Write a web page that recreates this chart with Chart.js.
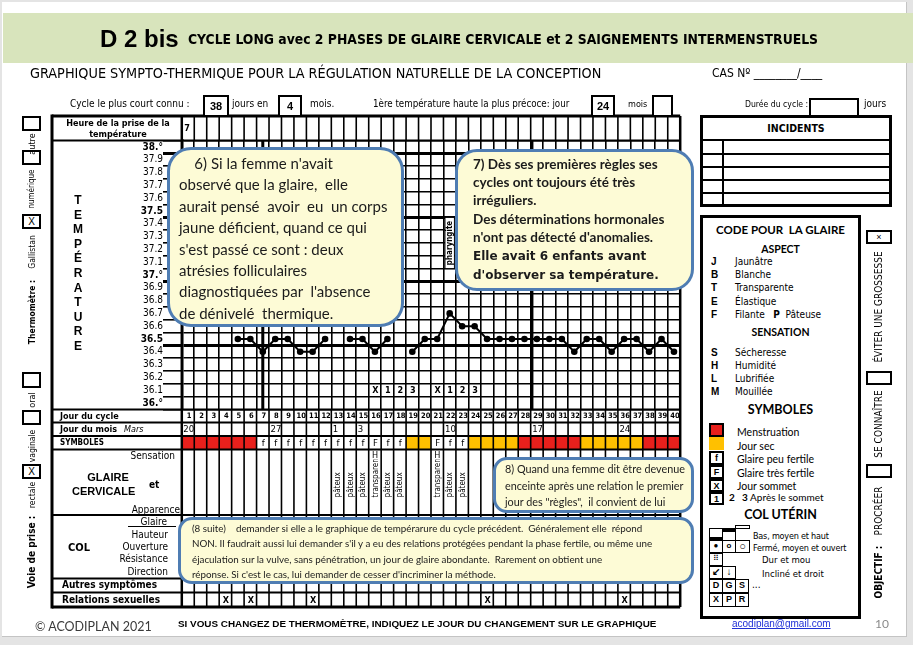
<!DOCTYPE html>
<html>
<head>
<meta charset="utf-8">
<script src="https://cdn.jsdelivr.net/npm/chart.js@4.4.1/dist/chart.umd.min.js"></script>
<style>
body{margin:0;background:#e4e4e4;font-family:"Liberation Sans",Arial,sans-serif;color:#000}
#page{position:relative;width:913px;height:645px;overflow:hidden}
#slide{position:absolute;left:2px;top:2px;width:904px;height:634px;background:#fff;border-right:1px solid #c4c4c4;border-bottom:1px solid #c4c4c4}
#band{position:absolute;left:3px;top:13px;width:910px;height:50px;background:#d8e4bc}
canvas{position:absolute;left:0;top:0;z-index:1}
.a{position:absolute;white-space:nowrap;line-height:1;z-index:2}
.n{font-family:"Liberation Sans Narrow","DejaVu Sans Condensed","Liberation Sans",sans-serif}
.l{font-family:Lato,sans-serif}
.b{font-weight:bold}
.bx{position:absolute;box-sizing:border-box;border:2px solid #000;background:#fff;z-index:2;text-align:center;font-weight:bold;line-height:1}
.v{position:absolute;white-space:nowrap;line-height:1;z-index:2;transform:translate(-50%,-50%) rotate(-90deg)}
.co{position:absolute;box-sizing:border-box;background:#fdfbd6;border:3px solid #4f7db3;z-index:3;font-family:Lato,sans-serif;color:#1b1b1b;white-space:pre}
.ln{position:absolute;background:#000;z-index:2}
</style>
</head>
<body>
<div id="page">
<div id="slide"></div>
<div id="band"></div>

<!-- header -->
<div class="a b" style="left:100px;top:27px;font-size:24px">D 2 bis</div>
<div class="a b n" style="left:188px;top:33px;font-size:13.8px">CYCLE LONG avec 2 PHASES DE GLAIRE CERVICALE et 2 SAIGNEMENTS INTERMENSTRUELS</div>
<div class="a n" style="left:30px;top:66px;font-size:14.3px">GRAPHIQUE SYMPTO-THERMIQUE POUR LA RÉGULATION NATURELLE DE LA CONCEPTION</div>
<div class="a n" style="left:712px;top:67px;font-size:12px">CAS Nº ________/____</div>

<div class="a n" style="left:70px;top:99px;font-size:10px">Cycle le plus court connu :</div>
<div class="bx" style="left:203px;top:95px;width:26px;height:22px;font-size:11px;padding-top:4px">38</div>
<div class="a n" style="left:232px;top:99px;font-size:10px">jours en</div>
<div class="bx" style="left:278px;top:95px;width:24px;height:22px;font-size:11px;padding-top:4px">4</div>
<div class="a n" style="left:310px;top:99px;font-size:10px">mois.</div>
<div class="a n" style="left:373px;top:99px;font-size:9.7px">1ère température haute la plus précoce: jour</div>
<div class="bx" style="left:591px;top:95px;width:24px;height:22px;font-size:11px;padding-top:4px">24</div>
<div class="a n" style="left:628px;top:100px;font-size:9px">mois</div>
<div class="bx" style="left:652px;top:95px;width:21px;height:22px"></div>
<div class="a n" style="left:745px;top:100px;font-size:8.6px">Durée du cycle :</div>
<div class="bx" style="left:809px;top:98px;width:50px;height:19px"></div>
<div class="a n" style="left:864px;top:99px;font-size:10px">jours</div>

<!-- left labels of the grid -->
<div class="a b n" style="left:58px;top:118px;width:120px;text-align:center;font-size:9px;line-height:11px">Heure de la prise de la<br>température</div>
<div class="a b" style="left:71px;top:193px;width:14px;text-align:center;font-size:12px;line-height:14.6px">T<br>E<br>M<br>P<br>É<br>R<br>A<br>T<br>U<br>R<br>E</div>
<div class="a b n" style="left:60px;top:412px;font-size:9px">Jour du cycle</div>
<div class="a b n" style="left:60px;top:425px;font-size:9px">Jour du mois <span style="font-style:italic;font-weight:normal;margin-left:4px">Mars</span></div>
<div class="a b n" style="left:60px;top:439px;font-size:8px">SYMBOLES</div>
<div class="a n" style="right:738px;top:451px;font-size:10px">Sensation</div>
<div class="a b" style="left:85px;top:472px;width:46px;text-align:center;font-size:11px">GLAIRE</div>
<div class="a b" style="left:72px;top:486px;font-size:11px">CERVICALE</div>
<div class="a b n" style="left:149px;top:480px;font-size:10px">et</div>
<div class="a n" style="right:733px;top:505px;font-size:10px">Apparence</div>
<div class="a n" style="right:746px;top:517px;font-size:10px">Glaire</div>
<div class="ln" style="left:128px;top:526px;width:48px;height:1px"></div>
<div class="a n" style="right:745px;top:530px;font-size:10px">Hauteur</div>
<div class="a b n" style="left:68px;top:542px;font-size:11px">COL</div>
<div class="a n" style="right:745px;top:542px;font-size:10px">Ouverture</div>
<div class="a n" style="right:745px;top:554px;font-size:10px">Résistance</div>
<div class="a n" style="right:745px;top:567px;font-size:10px">Direction</div>
<div class="a b n" style="left:62px;top:580px;font-size:10px">Autres symptômes</div>
<div class="a b n" style="left:62px;top:595px;font-size:10px">Relations sexuelles</div>

<!-- thermometer / voie de prise column -->
<div class="v b n" style="left:32px;top:312px;font-size:8.5px">Thermomètre :</div>
<div class="v n" style="left:32px;top:252px;font-size:8.5px">Gallistan</div>
<div class="bx" style="left:22px;top:214px;width:19px;height:15px;font-size:10px;padding-top:1px;font-weight:normal">X</div>
<div class="v n" style="left:32px;top:189px;font-size:8px">numérique</div>
<div class="bx" style="left:22px;top:150px;width:19px;height:15px"></div>
<div class="v n" style="left:32px;top:144px;font-size:9px">autre</div>
<div class="bx" style="left:22px;top:116px;width:19px;height:15px"></div>
<div class="v b n" style="left:32px;top:552px;font-size:10px">Voie de prise :</div>
<div class="v n" style="left:32px;top:495px;font-size:8.5px">rectale</div>
<div class="bx" style="left:22px;top:464px;width:19px;height:15px;font-size:10px;padding-top:1px;font-weight:normal">X</div>
<div class="v n" style="left:32px;top:446px;font-size:8.5px">vaginale</div>
<div class="bx" style="left:22px;top:410px;width:19px;height:15px"></div>
<div class="v n" style="left:32px;top:400px;font-size:9px">oral</div>
<div class="bx" style="left:22px;top:372px;width:19px;height:16px"></div>

<!-- objectif column -->
<div class="v b n" style="left:879px;top:572px;font-size:10px">OBJECTIF :</div>
<div class="v n" style="left:879px;top:511px;font-size:10px">PROCRÉER</div>
<div class="bx" style="left:866px;top:464px;width:26px;height:14px"></div>
<div class="v n" style="left:879px;top:424px;font-size:10px">SE CONNAÎTRE</div>
<div class="bx" style="left:866px;top:371px;width:26px;height:14px"></div>
<div class="v n" style="left:879px;top:307px;font-size:10px">ÉVITER UNE GROSSESSE</div>
<div class="bx" style="left:866px;top:230px;width:26px;height:14px;font-size:9px;font-weight:normal;padding-top:1px">×</div>

<!-- incidents -->
<div class="bx" style="left:700px;top:115px;width:192px;height:92px;border-width:3px"></div>
<div class="a b n" style="left:700px;top:123px;width:192px;text-align:center;font-size:10.5px">INCIDENTS</div>
<div class="ln" style="left:700px;top:139px;width:192px;height:2px"></div>
<div class="ln" style="left:700px;top:153px;width:192px;height:2px"></div>
<div class="ln" style="left:700px;top:166px;width:192px;height:2px"></div>
<div class="ln" style="left:700px;top:179px;width:192px;height:2px"></div>
<div class="ln" style="left:700px;top:192px;width:192px;height:2px"></div>
<div class="ln" style="left:722px;top:140px;width:2px;height:66px"></div>

<!-- code pour la glaire -->
<div class="bx" style="left:700px;top:215px;width:161px;height:404px;border-width:3px"></div>
<div class="a b l" style="left:700px;top:224px;width:161px;text-align:center;font-size:11.5px">CODE POUR&nbsp; LA GLAIRE</div>
<div class="a b l" style="left:700px;top:244px;width:161px;text-align:center;font-size:10.5px">ASPECT</div>
<div class="a b" style="left:711px;top:255px;font-size:10px;line-height:13.2px">J<br>B<br>T<br>E<br>F</div>
<div class="a n" style="left:735px;top:255px;font-size:10px;line-height:13.2px">Jaunâtre<br>Blanche<br>Transparente<br>Élastique<br>Filante&nbsp;&nbsp; <b>P</b>&nbsp; Pâteuse</div>
<div class="a b l" style="left:700px;top:327px;width:161px;text-align:center;font-size:10.5px">SENSATION</div>
<div class="a b" style="left:711px;top:346px;font-size:10px;line-height:13px">S<br>H<br>L<br>M</div>
<div class="a n" style="left:735px;top:346px;font-size:10px;line-height:13px">Sécheresse<br>Humidité<br>Lubrifiée<br>Mouillée</div>
<div class="a b l" style="left:700px;top:404px;width:161px;text-align:center;font-size:12.5px">SYMBOLES</div>
<div class="bx" style="left:709px;top:423px;width:15px;height:14px;background:#e8201c"></div>
<div class="bx" style="left:709px;top:437px;width:15px;height:13px;background:#ffc000;border-width:0"></div>
<div class="bx" style="left:709px;top:451px;width:15px;height:14px;font-size:9px;padding-top:1px">f</div>
<div class="bx" style="left:709px;top:465px;width:15px;height:14px;font-size:9px;padding-top:1px">F</div>
<div class="bx" style="left:709px;top:479px;width:15px;height:13px;font-size:9px;padding-top:1px">X</div>
<div class="bx" style="left:709px;top:492px;width:15px;height:13px;font-size:9px;padding-top:1px">1</div>
<div class="a l" style="left:737px;top:426px;font-size:10.5px;line-height:13.6px">Menstruation<br>Jour sec<br>Glaire peu fertile<br>Glaire très fertile<br>Jour sommet</div>
<div class="a l" style="left:729px;top:492px;font-size:10px"><b>2&nbsp;&nbsp; 3</b> Après le sommet</div>
<div class="a b l" style="left:700px;top:509px;width:161px;text-align:center;font-size:12.5px">COL UTÉRIN</div>
<div class="bx" style="left:709px;top:528px;width:14px;height:13px;border-width:1.5px;border-bottom-width:4px"></div>
<div class="bx" style="left:722px;top:528px;width:14px;height:13px;border-width:1.5px;border-top-width:4px"></div>
<div class="bx" style="left:735px;top:525px;width:15px;height:4px;border-width:1.5px"></div>
<div class="bx" style="left:709px;top:540px;width:14px;height:13px;border-width:1.5px;font-size:8px;padding-top:1px">●</div>
<div class="bx" style="left:722px;top:540px;width:14px;height:13px;border-width:1.5px;font-size:8px;padding-top:1px">o</div>
<div class="bx" style="left:735px;top:540px;width:15px;height:13px;border-width:1.5px;font-size:11px;padding-top:0">○</div>
<div class="bx" style="left:709px;top:553px;width:14px;height:13px;border-width:1.5px;font-size:8px;padding-top:1px;font-weight:normal">⠿</div>
<div class="bx" style="left:709px;top:566px;width:14px;height:13px;border-width:1.5px;font-size:10px">↙</div>
<div class="bx" style="left:722px;top:566px;width:14px;height:13px;border-width:1.5px;font-size:10px">↓</div>
<div class="bx" style="left:709px;top:579px;width:14px;height:14px;border-width:1.5px;font-size:9px;padding-top:1px">D</div>
<div class="bx" style="left:722px;top:579px;width:14px;height:14px;border-width:1.5px;font-size:9px;padding-top:1px">G</div>
<div class="bx" style="left:735px;top:579px;width:14px;height:14px;border-width:1.5px;font-size:9px;padding-top:1px">S</div>
<div class="bx" style="left:709px;top:593px;width:14px;height:14px;border-width:1.5px;font-size:9px;padding-top:1px">X</div>
<div class="bx" style="left:722px;top:593px;width:14px;height:14px;border-width:1.5px;font-size:9px;padding-top:1px">P</div>
<div class="bx" style="left:735px;top:593px;width:14px;height:14px;border-width:1.5px;font-size:9px;padding-top:1px">R</div>
<div class="a n" style="left:753px;top:530px;font-size:9px;letter-spacing:-0.2px;line-height:12px">Bas, moyen et haut<br>Fermé, moyen et ouvert</div>
<div class="a n" style="left:762px;top:553px;font-size:9.5px;line-height:13.5px">Dur et mou<br>Incliné et droit</div>
<div class="a n" style="left:752px;top:580px;font-size:10px">...</div>

<!-- footer -->
<div class="a l" style="left:35px;top:621px;font-size:12.5px;color:#3a3a3a">© ACODIPLAN 2021</div>
<div class="a b" style="left:178px;top:619px;font-size:9.9px">SI VOUS CHANGEZ DE THERMOMÈTRE, INDIQUEZ LE JOUR DU CHANGEMENT SUR LE GRAPHIQUE</div>
<div class="a" style="left:732px;top:619px;font-size:10px;color:#1f2fd6;text-decoration:underline">acodiplan@gmail.com</div>
<div class="a l" style="left:875px;top:618px;font-size:12px;color:#8a8a8a">10</div>

<!-- callouts -->
<div class="co" style="left:167px;top:147px;width:237px;height:180px;border-radius:24px;font-size:15px;line-height:21.4px;padding:3px 0 0 9px">    6) Si la femme n'avait
observé que la glaire,  elle
aurait pensé  avoir  eu  un corps
jaune déficient, quand ce qui
s'est passé ce sont : deux
atrésies folliculaires
diagnostiquées par  l'absence
de dénivelé  thermique.</div>
<div class="co" style="left:455px;top:149px;width:239px;height:142px;border-radius:22px;font-size:13.5px;line-height:18.2px;padding:3px 0 0 15px;font-weight:bold">7) Dès ses premières règles ses
cycles ont toujours été très
irréguliers.
Des déterminations hormonales
n'ont pas détecté d'anomalies.
<span style="font-family:'DejaVu Sans',sans-serif;font-size:12px">Elle avait 6 enfants avant
d'observer sa température.</span></div>
<div class="co" style="left:493px;top:457px;width:201px;height:56px;border-radius:14px;font-size:10.8px;line-height:16.5px;padding:1px 0 0 9px">8) Quand una femme dit être devenue
enceinte après une relation le premier
jour des "règles",  il convient de lui</div>
<div class="co" style="left:178px;top:517px;width:516px;height:67px;border-radius:14px;font-size:9.8px;line-height:15.3px;padding:1px 0 0 11px">(8 suite)    demander si elle a le graphique de tempérarure du cycle précédent.  Généralement elle  répond
NON. Il faudrait aussi lui demander s'il y a eu des relations protégées pendant la phase fertile, ou même une
éjaculation sur la vulve, sans pénétration, un jour de glaire abondante.  Rarement on obtient une
réponse. Si c'est le cas, lui demander de cesser d'incriminer la méthode.</div>

<canvas id="chart" width="913" height="645"></canvas>
</div>

<script>
// cycle days and basal temperature readings
const days = ['1','2','3','4','5','6','7','8','9','10','11','12','13','14','15','16','17','18','19','20',
  '21','22','23','24','25','26','27','28','29','30','31','32','33','34','35','36','37','38','39','40'];
const temps = [null, null, null, null, 36.5, 36.5, 36.4, 36.5, 36.5, 36.4,
  36.4, 36.5, null, 36.5, 36.5, 36.4, 36.5, null, 36.4, 36.5,
  36.5, 36.7, 36.6, 36.6, 36.5, 36.5, 36.5, 36.5, 36.5, 36.5,
  36.5, 36.4, 36.5, 36.5, 36.4, 36.5, 36.5, 36.4, 36.5, 36.4];

// temperature rows (labels at row centres, lines between rows)
const tempTicks = [36.0, 36.1, 36.2, 36.3, 36.4, 36.5, 36.6, 36.7, 36.8, 36.9, 37.0,
  37.1, 37.2, 37.3, 37.4, 37.5, 37.6, 37.7, 37.8, 37.9, 38.0];
const tempLabels = ['36.°', '36.1', '36.2', '36.3', '36.4', '36.5', '36.6', '36.7', '36.8', '36.9', '37.°',
  '37.1', '37.2', '37.3', '37.4', '37.5', '37.6', '37.7', '37.8', '37.9', '38.°'];
const boldTicks = [36.0, 36.5, 37.0, 37.5, 38.0];
const gridTemps = [35.95, 36.05, 36.15, 36.25, 36.35, 36.45, 36.55, 36.65, 36.75, 36.85, 36.95,
  37.05, 37.15, 37.25, 37.35, 37.45, 37.55, 37.65, 37.75, 37.85, 37.95, 38.05];
const thickTemps = [36.45, 36.95, 37.45, 37.95];

// other rows of the chart, by cycle day
const heure = {1: '7'};
const monthDays = {1: '20', 8: '27', 13: '1', 15: '3', 22: '10', 29: '17', 36: '24'};
const symbols = ['R','R','R','R','R','R','f','f','f','f','f','f','f','f','f','F','f','f','Y','Y',
  'F','f','f','Y','Y','Y','Y','R','R','R','R','R','Y','Y','Y','Y','Y','R','R','R'];
const sensation = {16: 'H', 21: 'H'};
const apparence = {13: 'pâteux', 14: 'pâteux', 15: 'pâteux', 16: 'transparent', 17: 'pâteux', 18: 'pâteux',
  21: 'transparent', 22: 'pâteux', 23: 'pâteux'};
const peakMarks = {16: 'X', 17: '1', 18: '2', 19: '3', 21: 'X', 22: '1', 23: '2', 24: '3'};
const peakTemp = 36.1;
const relations = {4: 'X', 6: 'X', 11: 'X', 25: 'X', 36: 'X'};
const thickDays = [7, 28.6];
const notes = [{day: 22, from: 37.05, to: 37.45, text: 'pharyngite'}];

const NARROW = '"Liberation Sans Narrow", "DejaVu Sans Condensed", "Liberation Sans", sans-serif';
const RED = '#e8201c';
const GOLD = '#ffc000';

function hline(ctx, x1, x2, y, w) {
  ctx.lineWidth = w;
  ctx.beginPath(); ctx.moveTo(x1, y); ctx.lineTo(x2, y); ctx.stroke();
}
function vline(ctx, x, y1, y2, w) {
  ctx.lineWidth = w;
  ctx.beginPath(); ctx.moveTo(x, y1); ctx.lineTo(x, y2); ctx.stroke();
}

const formPlugin = {
  id: 'form',
  beforeDatasetsDraw(chart) {
    const {ctx, chartArea: a, scales: {x, y}} = chart;
    const half = (x.getPixelForValue(1) - x.getPixelForValue(0)) / 2;
    ctx.save();
    ctx.strokeStyle = '#000';
    thickDays.forEach(d => vline(ctx, x.getPixelForValue(d - 1), a.top, a.bottom, 3));

    notes.forEach(n => {
      const px = x.getPixelForValue(n.day - 1);
      const y1 = y.getPixelForValue(n.to), y2 = y.getPixelForValue(n.from);
      ctx.fillStyle = '#fff';
      ctx.fillRect(px - half + 1.5, y1, half * 2 - 3, y2 - y1);
      ctx.lineWidth = 1;
      ctx.strokeRect(px - half + 1.5, y1, half * 2 - 3, y2 - y1);
      ctx.save();
      ctx.translate(px + 0.5, (y1 + y2) / 2);
      ctx.rotate(-Math.PI / 2);
      ctx.fillStyle = '#000';
      ctx.font = 'bold 8px ' + NARROW;
      ctx.textAlign = 'center';
      ctx.textBaseline = 'middle';
      ctx.fillText(n.text, 0, 0);
      ctx.restore();
    });

    ctx.fillStyle = '#000';
    ctx.font = 'bold 9px ' + NARROW;
    ctx.textAlign = 'center';
    ctx.textBaseline = 'middle';
    const py = y.getPixelForValue(peakTemp);
    Object.entries(peakMarks).forEach(([d, t]) => ctx.fillText(t, x.getPixelForValue(d - 1) + 0.5, py + 0.5));
    ctx.restore();
  },
  afterDraw(chart) {
    const {ctx, chartArea: a, scales: {x}} = chart;
    const half = (x.getPixelForValue(1) - x.getPixelForValue(0)) / 2;
    const L = 52, R = a.right, top = 116;
    const rows = [a.bottom, a.bottom + 13, a.bottom + 26.5, a.bottom + 40, a.bottom + 105.5,
      a.bottom + 169, a.bottom + 183, a.bottom + 197.6];
    ctx.save();

    // symbol colours
    symbols.forEach((s, i) => {
      if (s === 'R' || s === 'Y') {
        ctx.fillStyle = s === 'R' ? RED : GOLD;
        ctx.fillRect(x.getPixelForValue(i) - half, rows[2], half * 2, rows[3] - rows[2]);
      }
    });

    // grid of the form
    ctx.strokeStyle = '#000';
    for (let i = 0; i <= days.length; i++) {
      const bx = x.getPixelForValue(i) - half;
      vline(ctx, bx, top, a.top, 1.6);
      vline(ctx, bx, a.bottom, rows[7], 1.6);
    }
    hline(ctx, L, R, top, 3);
    hline(ctx, L, R, a.top, 2);
    rows.forEach((ry, k) => hline(ctx, L, R, ry, k === rows.length - 1 ? 3 : 2));
    vline(ctx, L, top - 1.5, rows[7] + 1.5, 3);
    vline(ctx, a.left, top, rows[7], 2.5);
    vline(ctx, R, top, rows[7], 2.5);

    ctx.fillStyle = '#000';
    ctx.textBaseline = 'middle';

    // heure
    ctx.font = 'bold 9px ' + NARROW;
    ctx.textAlign = 'left';
    Object.entries(heure).forEach(([d, t]) => ctx.fillText(t, x.getPixelForValue(d - 1) - half + 2.5, (top + a.top) / 2));

    // jour du cycle
    ctx.font = 'bold 7.5px ' + NARROW;
    ctx.textAlign = 'center';
    days.forEach((d, i) => ctx.fillText(d, x.getPixelForValue(i) + 1, (rows[0] + rows[1]) / 2 + 0.5));

    // jour du mois
    ctx.font = '9.5px ' + NARROW;
    ctx.textAlign = 'left';
    Object.entries(monthDays).forEach(([d, t]) => ctx.fillText(t, x.getPixelForValue(d - 1) - half + 1.5, (rows[1] + rows[2]) / 2 + 0.5));

    // f / F symbols
    ctx.font = '9.5px ' + NARROW;
    ctx.textAlign = 'center';
    symbols.forEach((s, i) => {
      if (s === 'f' || s === 'F') ctx.fillText(s, x.getPixelForValue(i) + 0.5, (rows[2] + rows[3]) / 2 + 0.5);
    });

    // sensation
    ctx.font = '9px ' + NARROW;
    Object.entries(sensation).forEach(([d, t]) => ctx.fillText(t, x.getPixelForValue(d - 1), rows[3] + 6));

    // apparence (vertical text)
    ctx.save();
    ctx.beginPath();
    ctx.rect(a.left, rows[3] + 10, R - a.left, rows[4] - rows[3] - 10);
    ctx.clip();
    ctx.font = '8px ' + NARROW;
    ctx.textAlign = 'left';
    Object.entries(apparence).forEach(([d, t]) => {
      ctx.save();
      ctx.translate(x.getPixelForValue(d - 1) + 0.5, rows[3] + 48);
      ctx.rotate(-Math.PI / 2);
      ctx.fillText(t, 0, 0);
      ctx.restore();
    });
    ctx.restore();

    // relations sexuelles
    ctx.font = 'bold 9px ' + NARROW;
    ctx.textAlign = 'center';
    Object.entries(relations).forEach(([d, t]) => ctx.fillText(t, x.getPixelForValue(d - 1) + 0.5, (rows[6] + rows[7]) / 2 + 0.5));

    ctx.restore();
  }
};

const ctx = document.getElementById('chart').getContext('2d');
new Chart(ctx, {
  type: 'line',
  data: {
    labels: days,
    datasets: [{
      data: temps,
      yAxisID: 'y',
      borderColor: '#000',
      borderWidth: 2,
      pointRadius: 3.3,
      pointBackgroundColor: '#000',
      pointBorderWidth: 0,
      spanGaps: false,
      tension: 0
    }]
  },
  options: {
    responsive: false,
    animation: false,
    devicePixelRatio: 1,
    layout: {padding: {left: 55, right: 232.8, top: 140.6, bottom: 235.6}},
    plugins: {legend: {display: false}, tooltip: {enabled: false}},
    scales: {
      x: {
        type: 'category',
        offset: true,
        grid: {offset: true, color: '#000', lineWidth: 1.6, drawTicks: false},
        border: {display: false},
        ticks: {display: false},
        afterFit: s => { s.height = 0; }
      },
      y: {
        type: 'linear',
        position: 'left',
        weight: 1,
        min: 35.95,
        max: 38.05,
        afterBuildTicks: s => { s.ticks = tempTicks.map(v => ({value: v})); },
        ticks: {
          autoSkip: false,
          padding: 0,
          color: '#000',
          callback: (v, i) => tempLabels[i],
          font: c => ({family: NARROW, size: 10, weight: boldTicks.includes(c.tick && c.tick.value) ? 'bold' : 'normal'})
        },
        grid: {display: false, drawTicks: false},
        border: {display: false},
        afterFit: s => { s.width = 108; }
      },
      yGrid: {
        type: 'linear',
        position: 'left',
        weight: 0,
        min: 35.95,
        max: 38.05,
        afterBuildTicks: s => { s.ticks = gridTemps.map(v => ({value: v})); },
        ticks: {display: false},
        grid: {
          color: '#000',
          tickLength: 18.8,
          lineWidth: c => thickTemps.some(t => c.tick && Math.abs(c.tick.value - t) < 0.001) ? 3 : 1.6
        },
        border: {display: true, color: '#000', width: 2.5},
        afterFit: s => { s.width = 18.8; }
      }
    }
  },
  plugins: [formPlugin]
});
</script>
</body>
</html>
